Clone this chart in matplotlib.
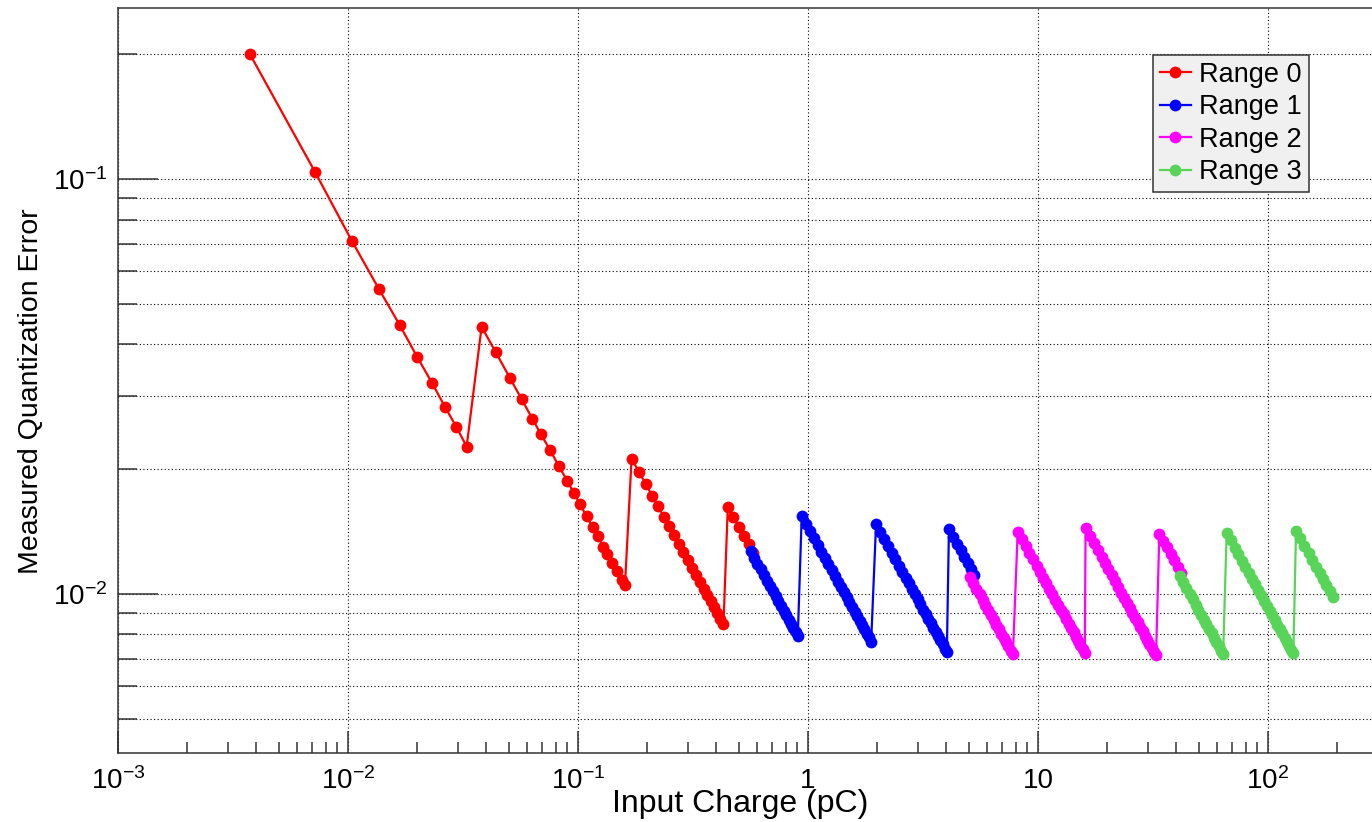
import matplotlib
matplotlib.use("Agg")
import matplotlib.pyplot as plt
from matplotlib.ticker import LogLocator, NullFormatter

# ---------------- data ----------------
range0_x = [0.00375, 0.0072, 0.0104, 0.0136, 0.0168, 0.0200, 0.0232, 0.0264, 0.0296, 0.0328,
            0.0381, 0.0439, 0.0506, 0.0569, 0.0633, 0.0690, 0.0755, 0.0824, 0.0896, 0.0961,
            0.102, 0.109, 0.116, 0.122, 0.129, 0.134, 0.141, 0.148, 0.155, 0.160,
            0.171, 0.184, 0.197, 0.210, 0.223, 0.236, 0.248, 0.261, 0.274, 0.287,
            0.300, 0.313, 0.326, 0.339, 0.352, 0.365, 0.377, 0.390, 0.403, 0.416, 0.429,
            0.448, 0.474, 0.500, 0.526, 0.552, 0.578]
range0_y = [0.200, 0.104, 0.0710, 0.0545, 0.0445, 0.0373, 0.0323, 0.0283, 0.0253, 0.0227,
            0.0441, 0.0383, 0.0332, 0.0295, 0.0265, 0.0243, 0.0223, 0.0204, 0.0188, 0.0175,
            0.0165, 0.0154, 0.0145, 0.0138, 0.0130, 0.0125, 0.0119, 0.0114, 0.0108, 0.0105,
            0.02123, 0.01973, 0.01843, 0.01729, 0.01628, 0.01538, 0.01464, 0.01391, 0.01325, 0.01265,
            0.01210, 0.01160, 0.01113, 0.01071, 0.01031, 0.00995, 0.00963, 0.00931, 0.00901, 0.00873, 0.00846,
            0.01625, 0.01536, 0.01456, 0.01384, 0.01319, 0.01260]

range1_x = [0.563, 0.583, 0.603, 0.623, 0.643, 0.663, 0.683, 0.703, 0.723, 0.743,
            0.763, 0.783, 0.803, 0.823, 0.843, 0.863, 0.883, 0.903,
            0.939, 0.980, 1.021, 1.062, 1.103, 1.144, 1.185, 1.226, 1.267, 1.308,
            1.349, 1.390, 1.431, 1.472, 1.513, 1.554, 1.595, 1.636, 1.677, 1.718,
            1.759, 1.800, 1.841, 1.882,
            1.976, 2.060, 2.145, 2.230, 2.315, 2.400, 2.485, 2.570, 2.655, 2.740,
            2.825, 2.910, 2.995, 3.080, 3.165, 3.250, 3.335, 3.420, 3.505, 3.590,
            3.675, 3.760, 3.845, 3.930, 4.015,
            4.10, 4.27, 4.44, 4.61, 4.78, 4.95, 5.12, 5.29]
range1_y = [0.01270, 0.01226, 0.01186, 0.01148, 0.01112, 0.01078, 0.01047, 0.01017, 0.00989, 0.00962,
            0.00937, 0.00913, 0.00890, 0.00869, 0.00848, 0.00829, 0.00810, 0.00792,
            0.01542, 0.01478, 0.01418, 0.01363, 0.01313, 0.01266, 0.01222, 0.01181, 0.01143, 0.01107,
            0.01073, 0.01042, 0.01012, 0.00984, 0.00957, 0.00932, 0.00908, 0.00885, 0.00863, 0.00843,
            0.00823, 0.00804, 0.00787, 0.00769,
            0.01473, 0.01413, 0.01357, 0.01305, 0.01257, 0.01213, 0.01171, 0.01132, 0.01096, 0.01062,
            0.01030, 0.01000, 0.00972, 0.00945, 0.00919, 0.00895, 0.00873, 0.00851, 0.00830, 0.00811,
            0.00792, 0.00774, 0.00757, 0.00740, 0.00725,
            0.01434, 0.01377, 0.01324, 0.01275, 0.01230, 0.01188, 0.01148, 0.01112]

range2_x = [5.06, 5.23, 5.40, 5.57, 5.74, 5.91, 6.08, 6.25, 6.42, 6.59,
            6.76, 6.93, 7.10, 7.27, 7.44, 7.61, 7.78,
            8.16, 8.50, 8.84, 9.18, 9.52, 9.86, 10.20, 10.54, 10.88, 11.22,
            11.56, 11.90, 12.24, 12.58, 12.92, 13.26, 13.60, 13.94, 14.28, 14.62,
            14.96, 15.30, 15.64, 15.98,
            16.1, 16.8, 17.5, 18.2, 18.9, 19.5, 20.2, 20.9, 21.6, 22.3,
            23.0, 23.7, 24.4, 25.0, 25.7, 26.4, 27.1, 27.8, 28.5, 29.2,
            29.9, 30.5, 31.2, 31.9, 32.6,
            33.7, 35.1, 36.4, 37.8, 39.1, 40.5, 41.9]
range2_y = [0.01101, 0.01065, 0.01031, 0.01000, 0.00970, 0.00942, 0.00916, 0.00891, 0.00868, 0.00845,
            0.00824, 0.00804, 0.00785, 0.00766, 0.00749, 0.00732, 0.00716,
            0.01415, 0.01359, 0.01307, 0.01258, 0.01213, 0.01171, 0.01132, 0.01096, 0.01062, 0.01029,
            0.00999, 0.00971, 0.00944, 0.00918, 0.00894, 0.00871, 0.00849, 0.00829, 0.00809, 0.00790,
            0.00772, 0.00755, 0.00738, 0.00723,
            0.01441, 0.01381, 0.01326, 0.01275, 0.01228, 0.01190, 0.01149, 0.01110, 0.01074, 0.01040,
            0.01009, 0.00979, 0.00951, 0.00928, 0.00903, 0.00879, 0.00856, 0.00835, 0.00814, 0.00795,
            0.00776, 0.00761, 0.00744, 0.00727, 0.00712,
            0.01401, 0.01345, 0.01297, 0.01249, 0.01207, 0.01165, 0.01126]

range3_x = [41.4, 42.8, 44.2, 45.6, 47.0, 48.4, 49.8, 51.2, 52.6, 54.0,
            55.4, 56.8, 58.2, 59.6, 61.0, 62.4, 63.8,
            66.1, 68.8, 71.6, 74.3, 77.0, 79.7, 82.5, 85.2, 87.9, 90.7,
            93.4, 96.1, 98.9, 101.6, 104.3, 107.0, 109.8, 112.5, 115.2, 118.0,
            120.7, 123.4, 126.1, 128.9,
            132.4, 138.3, 144.1, 150.0, 155.8, 161.7, 167.6, 173.4, 179.3, 185.1, 191.0]
range3_y = [0.01104, 0.01068, 0.01034, 0.01002, 0.00972, 0.00944, 0.00918, 0.00893, 0.00869, 0.00846,
            0.00825, 0.00805, 0.00785, 0.00767, 0.00749, 0.00732, 0.00716,
            0.01404, 0.01349, 0.01296, 0.01249, 0.01205, 0.01164, 0.01125, 0.01089, 0.01056, 0.01023,
            0.00994, 0.00966, 0.00938, 0.00913, 0.00890, 0.00867, 0.00845, 0.00825, 0.00806, 0.00786,
            0.00769, 0.00752, 0.00736, 0.00720,
            0.01424, 0.01363, 0.01308, 0.01257, 0.01210, 0.01166, 0.01125, 0.01087, 0.01051, 0.01018, 0.00987]

series_labels = ["Range 0", "Range 1", "Range 2", "Range 3"]
series_colors = ["#ff0000", "#0000ff", "#ff00ff", "#58d458"]

xtick_values = [1e-3, 1e-2, 1e-1, 1, 10, 100]
xtick_labels = ["$10^{-3}$", "$10^{-2}$", "$10^{-1}$", "1", "10", "$10^{2}$"]
ytick_values = [1e-2, 1e-1]
ytick_labels = ["$10^{-2}$", "$10^{-1}$"]

x_title = "Input Charge (pC)"
y_title = "Measured Quantization Error"

# ---------------- style ----------------
plt.rcParams["font.family"] = ["Liberation Sans", "DejaVu Sans"]
plt.rcParams["mathtext.fontset"] = "custom"
plt.rcParams["mathtext.rm"] = "Liberation Sans"
plt.rcParams["mathtext.it"] = "Liberation Sans:italic"
plt.rcParams["mathtext.bf"] = "Liberation Sans:bold"
plt.rcParams["mathtext.default"] = "regular"

W_PX, H_PX = 1372, 822
fig = plt.figure(figsize=(W_PX / 100, H_PX / 100), dpi=100)
left, right, top, bottom = 118, 1385, 8, 753
ax = fig.add_axes([left / W_PX, 1 - bottom / H_PX, (right - left) / W_PX, (bottom - top) / H_PX])

ax.set_xscale("log")
ax.set_yscale("log")

all_x = [range0_x, range1_x, range2_x, range3_x]
all_y = [range0_y, range1_y, range2_y, range3_y]
for xs, ys, lab, col in zip(all_x, all_y, series_labels, series_colors):
    ax.plot(xs, ys, color=col, lw=1.6, marker="o", ms=8.5, mew=0, label=lab)

ax.set_xlim(1e-3, 10 ** ((right - left) / 230.0 - 3))
ax.set_ylim(0.004145, 0.2587)

ax.set_xticks(xtick_values)
ax.set_xticklabels(xtick_labels)
ax.set_yticks(ytick_values)
ax.set_yticklabels(ytick_labels)
ax.xaxis.set_minor_locator(LogLocator(base=10, subs=[2, 3, 4, 5, 6, 7, 8, 9], numticks=30))
ax.yaxis.set_minor_locator(LogLocator(base=10, subs=[2, 3, 4, 5, 6, 7, 8, 9], numticks=30))
ax.xaxis.set_minor_formatter(NullFormatter())
ax.yaxis.set_minor_formatter(NullFormatter())

tick_col = "#333333"
ax.tick_params(axis="x", which="major", direction="in", length=15.8, width=1.1, color=tick_col,
               labelsize=20, pad=10.5, top=False)
ax.tick_params(axis="x", which="minor", direction="in", length=7.9, width=1.1, color=tick_col, top=False)
ax.tick_params(axis="y", which="major", direction="in", length=28.8, width=1.1, color=tick_col,
               labelsize=20, pad=8, right=False)
ax.tick_params(axis="y", which="minor", direction="in", length=13.7, width=1.1, color=tick_col, right=False)

for s in ["left", "bottom", "top"]:
    ax.spines[s].set_linewidth(1.1)
    ax.spines[s].set_color(tick_col)
ax.spines["right"].set_visible(False)

ax.set_axisbelow(True)
grid_kw = dict(color="black", lw=0.8, linestyle=(0, (1, 2.2)))
ax.grid(True, which="major", axis="x", **grid_kw)
ax.grid(True, which="both", axis="y", **grid_kw)

fig.text(740 / W_PX, 1 - 804 / H_PX, x_title, ha="center", va="center", fontsize=23)
fig.text(31 / W_PX, 1 - 391 / H_PX, y_title, ha="center", va="center", rotation=90, fontsize=20.5)

leg = ax.legend(loc="upper left", bbox_to_anchor=(1153 / W_PX, 1 - 55 / H_PX),
                bbox_transform=fig.transFigure, borderaxespad=0, fontsize=19.5,
                handlelength=1.15, handletextpad=0.3, borderpad=0.25, labelspacing=0.24,
                numpoints=1, fancybox=False, framealpha=1)
leg.get_frame().set_facecolor("#f0f0f0")
leg.get_frame().set_edgecolor("#333333")
leg.get_frame().set_linewidth(1.1)

fig.savefig("out.png", dpi=100)
